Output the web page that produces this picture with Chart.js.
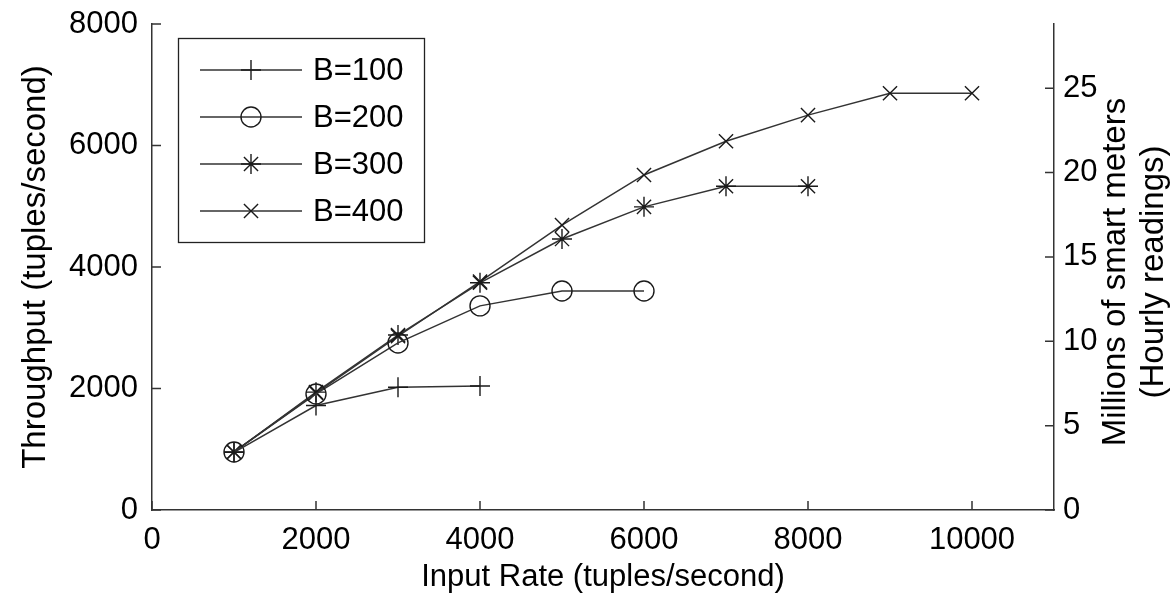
<!DOCTYPE html>
<html><head><meta charset="utf-8">
<script src="https://cdn.jsdelivr.net/npm/chart.js@4.4.1/dist/chart.umd.min.js"></script>
<style>html,body{margin:0;padding:0;background:#fff}#wrap{width:1176px;height:604px}</style>
</head><body><div id="wrap"><canvas id="c" width="1176" height="604"></canvas></div>
<script>
const inputRates = [1000, 2000, 3000, 4000, 5000, 6000, 7000, 8000, 9000, 10000];
const seriesNames = ['B=100', 'B=200', 'B=300', 'B=400'];
const b100 = [950, 1720, 2020, 2040];
const b200 = [955, 1910, 2750, 3360, 3605, 3605];
const b300 = [955, 1940, 2880, 3740, 4460, 4990, 5330, 5330];
const b400 = [955, 1925, 2860, 3760, 4690, 5515, 6070, 6500, 6860, 6860];
const xTicks = [0, 2000, 4000, 6000, 8000, 10000];
const yTicks = [0, 2000, 4000, 6000, 8000];
const y2Ticks = [0, 5, 10, 15, 20, 25];
const xMax = 11000, yMax = 8000;
const y2Max = yMax * 3600 / 1e6; // millions of hourly readings

const FONT = '"Liberation Sans", Arial, sans-serif';
const INK = '#1a1a1a';
const styles = ['cross', 'circle', 'star', 'crossRot'];
const seriesValues = [b100, b200, b300, b400];
const plain = v => String(v);

const datasets = seriesValues.map((vals, i) => ({
  label: seriesNames[i],
  data: vals.map((v, j) => ({x: inputRates[j], y: v})),
  borderColor: '#333',
  borderWidth: 1.5,
  pointStyle: styles[i],
  pointRadius: 10,
  pointBorderWidth: 1.4,
  pointBorderColor: INK,
  pointBackgroundColor: 'rgba(0,0,0,0)',
  tension: 0,
  yAxisID: 'y'
}));

const inwardTicks = {
  id: 'inwardTicks',
  afterDraw(chart) {
    const {ctx, chartArea: a, scales} = chart;
    ctx.save();
    ctx.strokeStyle = '#333';
    ctx.lineWidth = 1.5;
    ctx.beginPath();
    xTicks.forEach(v => { const px = scales.x.getPixelForValue(v); ctx.moveTo(px, a.bottom); ctx.lineTo(px, a.bottom - 9); });
    yTicks.forEach(v => { const py = scales.y.getPixelForValue(v); ctx.moveTo(a.left, py); ctx.lineTo(a.left + 9, py); });
    y2Ticks.forEach(v => { const py = scales.y2.getPixelForValue(v); ctx.moveTo(a.right, py); ctx.lineTo(a.right - 9, py); });
    ctx.stroke();
    // right axis title (reads bottom to top)
    ctx.fillStyle = '#000';
    ctx.font = '33px ' + FONT;
    ctx.textAlign = 'center';
    ctx.textBaseline = 'middle';
    const cy = 272;
    [['Millions of smart meters', 1116], ['(Hourly readings)', 1154]].forEach(([t, x]) => {
      ctx.save(); ctx.translate(x, cy); ctx.rotate(-Math.PI / 2); ctx.fillText(t, 0, 0); ctx.restore();
    });
    ctx.restore();
  }
};

const boxLegend = {
  id: 'boxLegend',
  afterDatasetsDraw(chart) {
    const {ctx} = chart;
    ctx.save();
    ctx.fillStyle = '#fff';
    ctx.fillRect(178, 38, 246, 204);
    ctx.strokeStyle = '#222';
    ctx.lineWidth = 1.3;
    ctx.strokeRect(178.5, 38.5, 246, 204);
    chart.data.datasets.forEach((ds, i) => {
      const y = 70 + 47 * i;
      ctx.strokeStyle = '#333';
      ctx.lineWidth = 1.5;
      ctx.beginPath(); ctx.moveTo(200, y); ctx.lineTo(302, y); ctx.stroke();
      ctx.strokeStyle = INK;
      ctx.fillStyle = 'rgba(0,0,0,0)';
      ctx.lineWidth = 1.4;
      Chart.helpers.drawPoint(ctx, {pointStyle: ds.pointStyle, radius: 10, borderWidth: 1.4, rotation: 0}, 251, y);
      ctx.fillStyle = '#000';
      ctx.font = '31px ' + FONT;
      ctx.textAlign = 'left';
      ctx.textBaseline = 'middle';
      ctx.fillText(ds.label, 313, y + 1);
    });
    ctx.restore();
  }
};

new Chart(document.getElementById('c'), {
  type: 'line',
  data: {datasets},
  plugins: [inwardTicks, boxLegend],
  options: {
    responsive: false,
    animation: false,
    devicePixelRatio: 1,
    events: [],
    layout: {padding: {top: 24, left: 0, right: 0, bottom: 0}},
    plugins: {legend: {display: false}, tooltip: {enabled: false}},
    scales: {
      x: {
        type: 'linear', position: 'bottom', min: 0, max: xMax,
        afterFit(s) { s.height = 94; s.paddingLeft = 0; s.paddingRight = 0; },
        afterBuildTicks(s) { s.ticks = xTicks.map(v => ({value: v})); },
        grid: {display: false, drawTicks: false},
        border: {display: true, color: '#333', width: 1.5},
        ticks: {padding: 12, color: '#000', font: {family: FONT, size: 31}, maxRotation: 0, callback: plain},
        title: {display: true, text: 'Input Rate (tuples/second)', color: '#000', font: {family: FONT, size: 31, lineHeight: 1.2}, padding: {top: 0, bottom: 8}}
      },
      y: {
        type: 'linear', position: 'left', min: 0, max: yMax,
        afterFit(s) { s.width = 152; s.paddingTop = 0; s.paddingBottom = 0; },
        afterBuildTicks(s) { s.ticks = yTicks.map(v => ({value: v})); },
        grid: {display: false, drawTicks: false},
        border: {display: true, color: '#333', width: 1.5},
        ticks: {padding: 14, color: '#000', font: {family: FONT, size: 31}, callback: plain},
        title: {display: true, text: 'Throughput (tuples/second)', color: '#000', font: {family: FONT, size: 33, lineHeight: 1.2}, padding: {top: 16, bottom: 0}}
      },
      y2: {
        type: 'linear', position: 'right', min: 0, max: y2Max,
        afterFit(s) { s.width = 122; s.paddingTop = 0; s.paddingBottom = 0; },
        afterBuildTicks(s) { s.ticks = y2Ticks.map(v => ({value: v})); },
        grid: {display: false, drawTicks: false},
        border: {display: true, color: '#333', width: 1.5},
        ticks: {padding: 9, color: '#000', font: {family: FONT, size: 31}, callback: plain}
      }
    }
  }
});
</script>
</body></html>
